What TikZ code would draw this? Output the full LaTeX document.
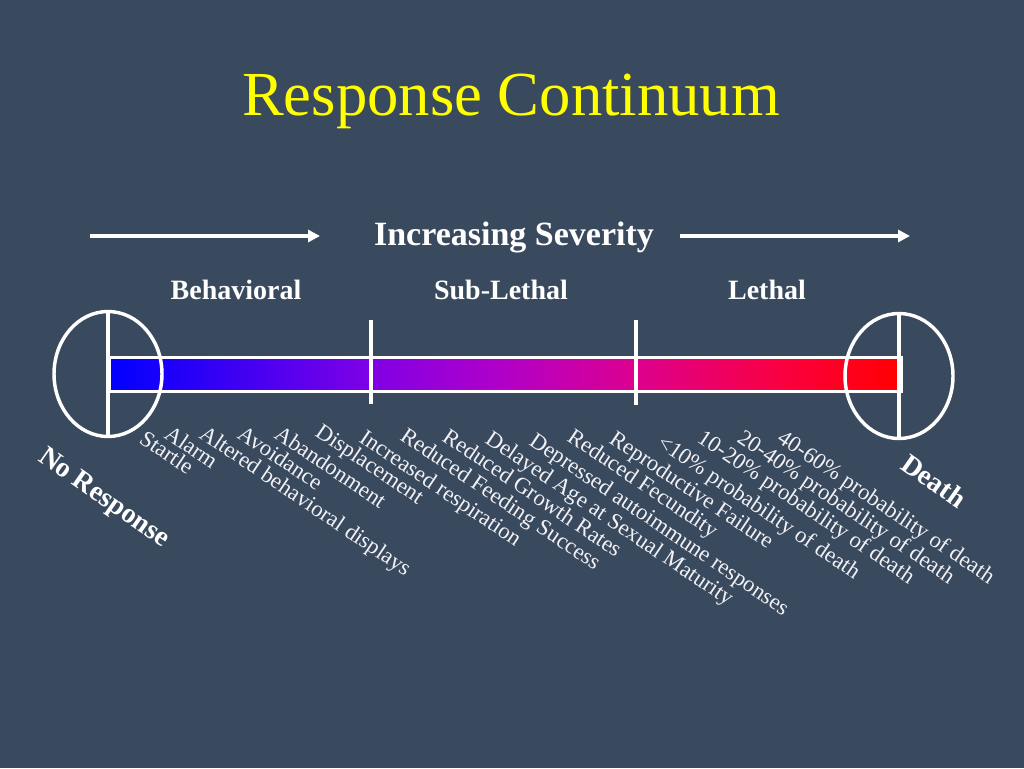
\documentclass[tikz,border=0pt]{standalone}
\usepackage{fontspec}
\setmainfont{Liberation Serif}
\usetikzlibrary{arrows.meta,shapes.geometric}
\definecolor{bg}{RGB}{58,74,94}
\definecolor{ttl}{RGB}{255,255,0}
\definecolor{labtext}{RGB}{240,240,245}
\pgfdeclarehorizontalshading{spectrum}{100bp}{%
  rgb(0bp)=(0,0,1); rgb(25bp)=(0,0,1); rgb(41.5bp)=(0.5,0,0.9);
  rgb(50bp)=(0.7,0,0.78); rgb(58.5bp)=(0.87,0,0.55); rgb(67.5bp)=(0.98,0,0.25);
  rgb(75bp)=(1,0,0); rgb(100bp)=(1,0,0)}
\tikzset{
  wline/.style={draw=white, line width=2.4pt},
  endcirc/.style={ellipse, draw=white, line width=2.6pt, minimum width=81pt, minimum height=93.75pt, inner sep=0pt},
  sevarrow/.style={draw=white, line width=2.3pt, -{Triangle[length=9pt,width=9pt]}},
  head/.style={text=white, font=\bfseries\fontsize{21}{21}\selectfont, anchor=base},
  lab/.style={text=labtext, font=\fontsize{17}{17}\selectfont, rotate=-34, anchor=base west, inner sep=0pt},
  endlab/.style={text=white, font=\bfseries\fontsize{21}{21}\selectfont, rotate=-35, anchor=base west, inner sep=0pt}
}
\begin{document}
\begin{tikzpicture}[x=0.75pt,y=-0.75pt]
\fill[bg] (0,0) rectangle (1024,768);
\useasboundingbox (0,0) rectangle (1024,768);

\node (title) [text=ttl, font=\fontsize{47}{47}\selectfont, anchor=base] at (511,115) {Response Continuum};

\node (sev) [text=white, font=\bfseries\fontsize{25.5}{25.5}\selectfont, anchor=base] at (514,245) {Increasing Severity};
\coordinate (la1) at (90,236); \coordinate (la2) at (320,236);
\coordinate (ra1) at (680,236); \coordinate (ra2) at (910,236);
\draw[sevarrow] (la1) -- (la2);
\draw[sevarrow] (ra1) -- (ra2);

\node (beh) [head] at (236,299) {Behavioral};
\node (sub) [head] at (501,299) {Sub-Lethal};
\node (leth) [head] at (767,299) {Lethal};

% bar
\node (bar) [shade, shading=spectrum, draw=white, line width=2.3pt, minimum width=594pt, minimum height=26pt, inner sep=0pt, anchor=west] at (108,374.5) {};

% end circles
\node (noresp) [endcirc] at (108,374) {};
\node (death) [endcirc] at (899,376) {};
\draw[wline] (noresp.north) -- (noresp.south);
\draw[wline] (death.north) -- (death.south);

% ticks
\coordinate (t1a) at (371,320); \coordinate (t1b) at (371,404);
\coordinate (t2a) at (636,320); \coordinate (t2b) at (636,405);
\draw[wline] (t1a) -- (t1b);
\draw[wline] (t2a) -- (t2b);

% labels
\node (l1) [lab] at (138,442) {Startle};
\node (l2) [lab] at (163,437) {Alarm};
\node (l3) [lab] at (198,437) {Altered behavioral displays};
\node (l4) [lab] at (236,437) {Avoidance};
\node (l5) [lab] at (273,437) {Abandonment};
\node (l6) [lab] at (314,435) {Displacement};
\node (l7) [lab] at (358,441) {Increased respiration};
\node (l8) [lab] at (399,439) {Reduced Feeding Success};
\node (l9) [lab] at (441,440) {Reduced Growth Rates};
\node (l10) [lab] at (484,442) {Delayed Age at Sexual Maturity};
\node (l11) [lab] at (528,444) {Depressed autoimmune responses};
\node (l12) [lab] at (566,440) {Reduced Fecundity};
\node (l13) [lab] at (608,442) {Reproductive Failure};
\node (l14) [lab] at (656,446) {<10\% probability of death};
\node (l15) [lab] at (696,441) {10-20\% probability of death};
\node (l16) [lab] at (736,441) {20-40\% probability of death};
\node (l17) [lab] at (776,441) {40-60\% probability of death};

\node (nrlab) [endlab] at (37,460) {No Response};
\node (dlab) [endlab] at (899,468) {Death};
\end{tikzpicture}
\end{document}
